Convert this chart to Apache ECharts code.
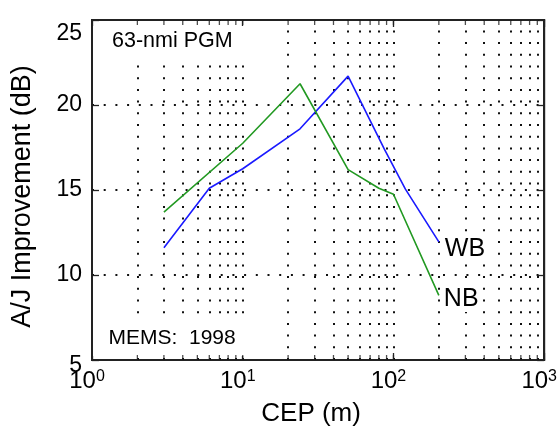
<!DOCTYPE html>
<html><head><meta charset="utf-8">
<script src="https://cdn.jsdelivr.net/npm/echarts@6/dist/echarts.min.js"></script>
<style>html,body{margin:0;padding:0;background:#fff}#c{width:560px;height:432px}</style>
</head><body><div id="c"></div>
<script>
// Data
const cepNB = [3, 10, 24, 50, 80, 100, 200];
const ajNB  = [13.7, 17.75, 21.25, 16.2, 15.1, 14.75, 8.8];
const cepWB = [3, 6, 10, 24, 50, 87, 120, 200];
const ajWB  = [11.6, 15.1, 16.25, 18.6, 21.7, 17.4, 15.05, 11.95];
const gridLinesX = [2,3,4,5,6,7,8,9,10,20,30,40,50,60,70,80,90,100,200,300,400,500,600,700,800,900];
const xTickExponents = ['0','1','2','3'];
const seriesNames = ['WB', 'NB'];
const notes = ['63-nmi PGM', 'MEMS:  1998'];
const xName = 'CEP (m)';
const yName = 'A/J Improvement (dB)';

const FONT = 'Liberation Sans, Arial, Helvetica, sans-serif';
const INK = '#222';
const dotted = {type: [2, 9.7], width: 2, color: '#111'};

const chart = echarts.init(document.getElementById('c'), null, {renderer: 'canvas'});
const pair = (xs, ys) => xs.map((x, i) => [x, ys[i]]);

chart.setOption({
  animation: false,
  backgroundColor: '#fff',
  grid: {left: 92, top: 20, right: 12, bottom: 70, show: true, borderColor: INK, borderWidth: 2, containLabel: false},
  xAxis: [{
    type: 'log', logBase: 10, min: 1, max: 1000, position: 'bottom',
    axisLine: {show: true, lineStyle: {color: INK, width: 2}},
    axisTick: {show: true, inside: true, length: 7, lineStyle: {color: INK, width: 1.3}},
    splitLine: {show: false},
    axisLabel: {
      margin: 9, padding: [0, 10, 0, 0],
      formatter: v => '{b|10}{s|' + xTickExponents[Math.round(Math.log10(v))] + '}',
      rich: {
        b: {fontSize: 24, fontFamily: FONT, color: '#000'},
        s: {fontSize: 16, fontFamily: FONT, color: '#000', padding: [0, 0, 9, 0]}
      }
    },
    name: xName, nameLocation: 'middle', nameGap: 41,
    nameTextStyle: {fontSize: 26, fontFamily: FONT, color: '#000', padding: [0, 14, 0, 0]}
  }, {
    type: 'log', logBase: 10, min: 1, max: 1000, position: 'top',
    axisLine: {show: true, lineStyle: {color: INK, width: 2}},
    axisTick: {show: true, inside: true, length: 7, lineStyle: {color: INK, width: 1.3}},
    axisLabel: {show: false}, splitLine: {show: false}
  }],
  yAxis: [{
    type: 'value', min: 5, max: 25, interval: 5, position: 'left',
    axisLine: {show: true, lineStyle: {color: INK, width: 2}},
    axisTick: {show: true, inside: true, length: 7, lineStyle: {color: INK, width: 1.3}},
    splitLine: {show: true, lineStyle: dotted},
    axisLabel: {
      margin: 10, fontSize: 23, fontFamily: FONT, color: '#000',
      formatter: v => v === 25 ? '{t|25}' : (v === 5 ? '{u|5}' : String(v)),
      rich: {
        t: {fontSize: 23, fontFamily: FONT, color: '#000', padding: [28, 0, 0, 0]},
        u: {fontSize: 23, fontFamily: FONT, color: '#000', padding: [12, 0, 0, 0]}
      }
    },
    name: yName, nameLocation: 'middle', nameGap: 56,
    nameTextStyle: {fontSize: 27, fontFamily: FONT, color: '#000', padding: [0, 13, 0, 0]}
  }, {
    type: 'value', min: 5, max: 25, interval: 5, position: 'right',
    axisLine: {show: true, lineStyle: {color: INK, width: 2}},
    axisTick: {show: true, inside: true, length: 7, lineStyle: {color: INK, width: 1.3}},
    axisLabel: {show: false}, splitLine: {show: false}
  }],
  graphic: [
    {type: 'rect', z: 8, silent: true, shape: {x: 93, y: 26, width: 157, height: 31}, style: {fill: '#fff'}},
    {type: 'text', z: 9, silent: true, x: 112, y: 41.5, style: {text: notes[0], fontSize: 21.5, fontFamily: FONT, fill: '#000', verticalAlign: 'middle'}},
    {type: 'rect', z: 8, silent: true, shape: {x: 93, y: 318, width: 157, height: 38}, style: {fill: '#fff'}},
    {type: 'text', z: 9, silent: true, x: 108.5, y: 338.5, style: {text: notes[1], fontSize: 21, fontFamily: FONT, fill: '#000', verticalAlign: 'middle'}}
  ],
  series: [
    {
      type: 'line', data: [], z: 1, silent: true,
      markLine: {silent: true, z: 2, symbol: 'none', label: {show: false}, lineStyle: dotted,
        data: gridLinesX.map(v => ({xAxis: v}))}
    },
    {
      type: 'scatter', z: 10, silent: true, clip: false, symbol: 'rect', symbolSize: [1.3, 5], symbolOffset: [0, -2.5],
      itemStyle: {color: INK}, data: gridLinesX.map(v => [v, 5])
    },
    {
      type: 'scatter', z: 10, silent: true, clip: false, symbol: 'rect', symbolSize: [1.3, 5], symbolOffset: [0, 2.5],
      itemStyle: {color: INK}, data: gridLinesX.map(v => [v, 25])
    },
    {
      name: seriesNames[0], type: 'line', z: 12, data: pair(cepWB, ajWB), showSymbol: false,
      lineStyle: {color: '#1a1aff', width: 1.6}, itemStyle: {color: '#1a1aff'},
      endLabel: {show: true, formatter: seriesNames[0], fontSize: 25, fontFamily: FONT, color: '#000',
        distance: 5, offset: [0, 7], backgroundColor: '#fff', padding: [0, 1]}
    },
    {
      name: seriesNames[1], type: 'line', z: 12, data: pair(cepNB, ajNB), showSymbol: false,
      lineStyle: {color: '#229922', width: 1.6}, itemStyle: {color: '#229922'},
      endLabel: {show: true, formatter: seriesNames[1], fontSize: 25, fontFamily: FONT, color: '#000',
        distance: 4, offset: [0, 4], backgroundColor: '#fff', padding: [0, 1]}
    }
  ]
});
</script></body></html>
